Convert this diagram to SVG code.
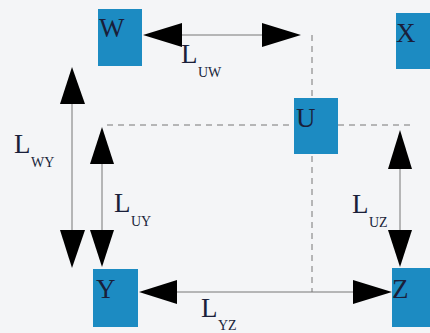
<svg xmlns="http://www.w3.org/2000/svg" width="430" height="333" viewBox="0 0 430 333">
<style>
.box{fill:#1c8bc2}
.lbl{font-family:"Liberation Serif",serif;font-size:27px;fill:#1a1f3a}
.sub{font-family:"Liberation Serif",serif;font-size:14px;fill:#1a1f3a}
.ln{stroke:#777;stroke-width:1;fill:none}
.dash{stroke:#777;stroke-width:1;stroke-dasharray:6,5;fill:none}
.ah{fill:#000}
</style>
<rect width="430" height="333" fill="#f4f5f7"/>
<g id="guides">
<line class="dash" x1="312" y1="35" x2="312" y2="292"/>
<line class="dash" x1="107" y1="125" x2="415" y2="125"/>
</g>
<g id="W"><rect class="box" x="98" y="9" width="44" height="57"/><text class="lbl" x="99" y="37">W</text></g>
<g id="X"><rect class="box" x="396" y="13" width="44" height="56"/><text class="lbl" x="396" y="42">X</text></g>
<g id="U"><rect class="box" x="294" y="98" width="44" height="56"/><text class="lbl" x="296" y="127">U</text></g>
<g id="Y"><rect class="box" x="93" y="269" width="45" height="58"/><text class="lbl" x="96" y="298">Y</text></g>
<g id="Z"><rect class="box" x="392" y="268" width="44" height="59"/><text class="lbl" x="392" y="298">Z</text></g>
<g id="connectors">
<line class="ln" x1="180" y1="35" x2="264" y2="35"/>
<polygon class="ah" points="143,35 182,23 182,47"/>
<polygon class="ah" points="301,35 262,23 262,47"/>
<line class="ln" x1="72" y1="100" x2="72" y2="232"/>
<polygon class="ah" points="72,67 60,104 85,104"/>
<polygon class="ah" points="72,268 60,230 85,230"/>
<line class="ln" x1="102" y1="160" x2="102" y2="232"/>
<polygon class="ah" points="102,127 90,164 114,164"/>
<polygon class="ah" points="102,267 90,230 114,230"/>
<line class="ln" x1="400" y1="168" x2="400" y2="232"/>
<polygon class="ah" points="400,130 388,169 412,169"/>
<polygon class="ah" points="400,267 388,230 412,230"/>
<line class="ln" x1="175" y1="292" x2="355" y2="292"/>
<polygon class="ah" points="139,292 177,280 177,304"/>
<polygon class="ah" points="392,292 353,280 353,304"/>
</g>
<g id="labels">
<text class="lbl" x="181" y="63">L</text><text class="sub" x="198" y="77">UW</text>
<text class="lbl" x="14" y="153">L</text><text class="sub" x="31" y="167">WY</text>
<text class="lbl" x="114" y="212">L</text><text class="sub" x="131" y="226">UY</text>
<text class="lbl" x="352" y="213">L</text><text class="sub" x="369" y="227">UZ</text>
<text class="lbl" x="201" y="317">L</text><text class="sub" x="218" y="330">YZ</text>
</g>
</svg>
